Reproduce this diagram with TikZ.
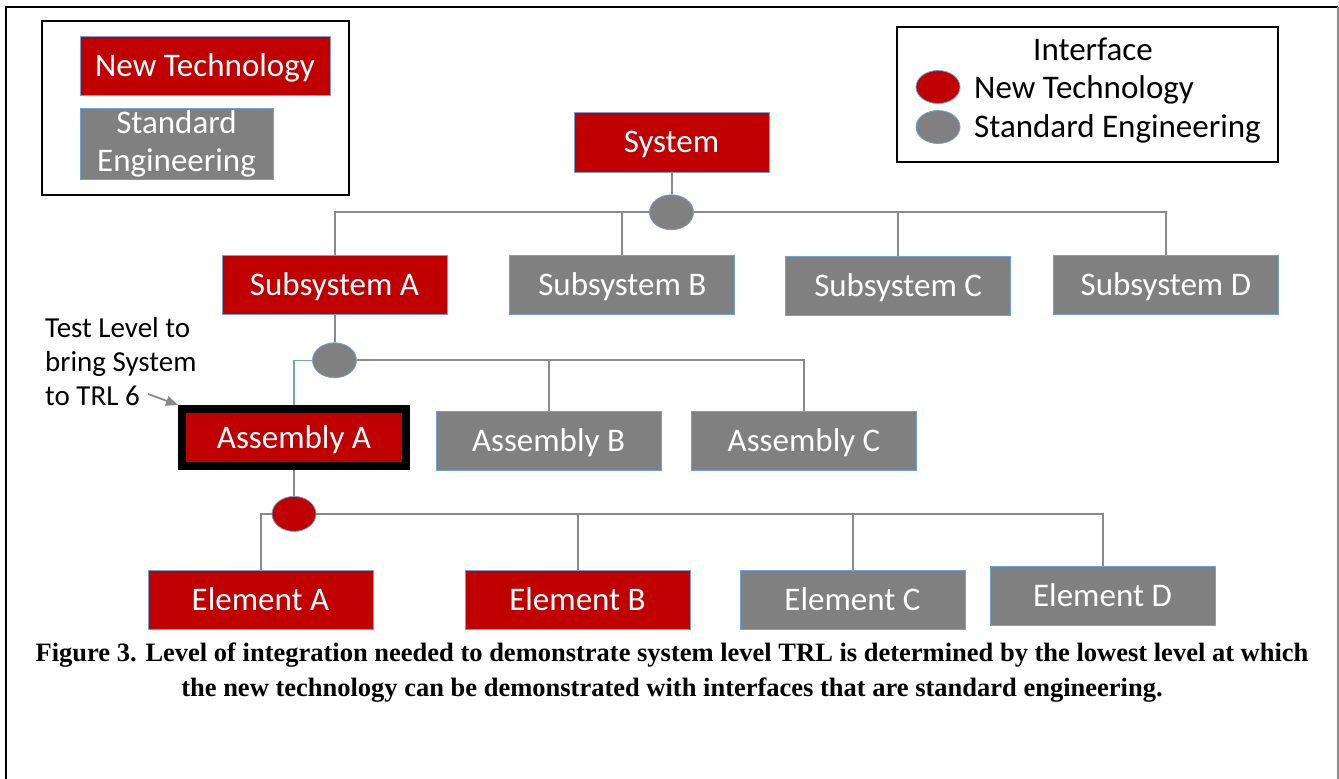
\documentclass[tikz,border=0pt]{standalone}
\usepackage{fontspec}
\setmainfont{Carlito}
\newfontfamily\capfont{Liberation Serif}
\usetikzlibrary{shapes,arrows,arrows.meta,positioning,calc,backgrounds}

\definecolor{ntred}{HTML}{C00000}
\definecolor{segray}{HTML}{808080}
\definecolor{edgeblue}{HTML}{6FA3D8}
\definecolor{linegray}{HTML}{8A8A8A}

\begin{document}
\begin{tikzpicture}[
        x=1pt, y=-1pt,
        font=\fontsize{33}{38}\selectfont,
        newtech/.style={rectangle, draw=edgeblue, fill=ntred, text=white, minimum width=225pt, minimum height=59pt, inner sep=0pt, text depth=0pt, line width=0.8pt},
        stdeng/.style={newtech, fill=segray},
        port/.style={ellipse, draw=edgeblue, fill=segray, minimum width=44pt, minimum height=35pt, inner sep=0pt, line width=0.8pt},
        newport/.style={port, fill=ntred},
        link/.style={draw=linegray, line width=2pt},
        legendbox/.style={draw, line width=2pt}
    ]
    \useasboundingbox (0,0) rectangle (1339,779);

    % Outer frame (open at the bottom)
    \draw[line width=2.5pt] (6,779) -- (6,7) -- (1338,7);
    \draw[linegray, line width=1.5pt] (1338,7) -- (1338,779);

    % Legend: box colours
    \draw[legendbox] (42,21) rectangle (349,195);
    \node [newtech, minimum width=250pt] (lgnew) at (205,65.5) {New Technology};
    \node [stdeng, minimum width=193pt, minimum height=71pt, text depth=, align=center] (lgstd) at (176.5,143.5) {Standard\\Engineering};

    % Legend: interfaces
    \draw[legendbox] (897,27) rectangle (1278,162);
    \node (lgtitle) at (1093,49) {Interface};
    \node [newport, minimum height=33pt] (lgnport) at (938,87) {};
    \node [port, minimum height=33pt] (lgsport) at (938,127) {};
    \node [anchor=west, inner sep=0pt] at (974,90) {New Technology};
    \node [anchor=west, inner sep=0pt] at (974,129) {Standard Engineering};

    % System level
    \node [newtech, minimum width=195pt, minimum height=60pt] (system) at (671.5,142) {System};
    \node [port, below=22pt of system] (sysport) {};

    % Subsystem level
    \node [newtech] (suba) at (334.5,284.5) {Subsystem A};
    \node [stdeng, right=62pt of suba] (subb) {Subsystem B};
    \node [stdeng, right=50pt of subb, yshift=-1pt] (subc) {Subsystem C};
    \node [stdeng, right=42pt of subc, yshift=1pt] (subd) {Subsystem D};
    \node [port, below=28pt of suba] (asmport) {};

    % Assembly level
    \node [newtech, draw=black, line width=8pt, minimum width=224pt, minimum height=57pt] (asma) at (294,437.5) {Assembly A};
    \node [stdeng] (asmb) at (548.5,440.5) {Assembly B};
    \node [stdeng] (asmc) at (804,440.5) {Assembly C};
    \node [newport, below=26pt of asma] (elport) {};

    % Element level
    \node [newtech] (ela) at (260.5,599.5) {Element A};
    \node [newtech] (elb) at (577.5,599.5) {Element B};
    \node [stdeng] (elc) at (852.5,599.5) {Element C};
    \node [stdeng] (eld) at (1102.5,595.5) {Element D};

    % Connections, kept behind the boxes and ovals
    \begin{scope}[on background layer]
    \path [link] (system) -- (sysport);
    \path [link] (sysport.center) -| (suba.north);
    \path [link] (sysport.center) -| (subb.north);
    \path [link] (sysport.center) -| (subc.north);
    \path [link] (sysport.center) -| (subd.north);
    \path [link] (suba) -- (asmport);
    \path [draw=edgeblue, line width=1.5pt] (asmport.west) -| (asma.north);
    \path [link] (asmport.center) -| (asmb.north);
    \path [link] (asmport.center) -| (asmc.north);
    \path [link] (asma) -- (elport);
    \path [link] (elport.center) -| (ela.north);
    \path [link] (elport.center) -| (elb.north);
    \path [link] (elport.center) -| (elc.north);
    \path [link] (elport.center) -| (eld.north);
    \end{scope}

    % Test level note
    \node [anchor=west, align=left, inner sep=0pt, font=\fontsize{29}{34}\selectfont] (testnote) at (45,362) {Test Level to\\bring System\\to TRL 6};
    \coordinate (notetip) at (148,394);
    \path [draw=linegray, line width=1.8pt, -{Triangle[length=12pt, width=10pt]}] (notetip) -- (asma.north west);

    % Caption
    \node [font=\capfont\bfseries\fontsize{26.5}{35}\selectfont, align=center] (caption) at (672,673) {Figure 3. Level of integration needed to demonstrate system level TRL is determined by the lowest level at which\\the new technology can be demonstrated with interfaces that are standard engineering.};
\end{tikzpicture}
\end{document}
